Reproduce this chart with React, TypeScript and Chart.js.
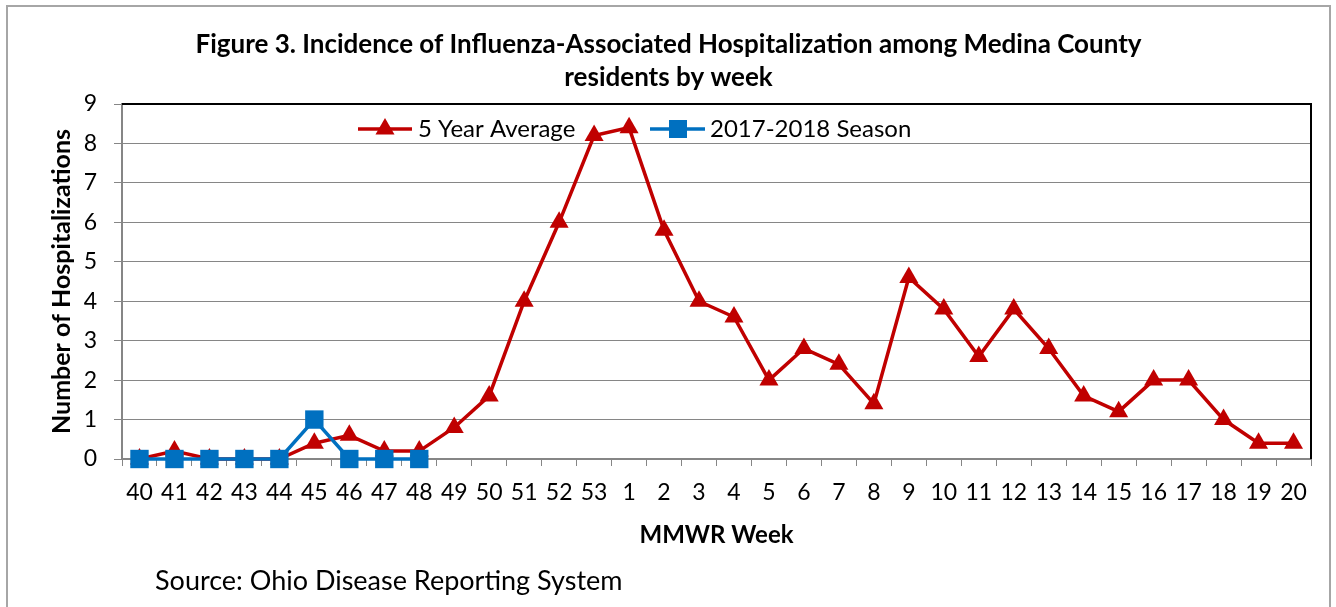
import React, { useEffect, useRef } from 'react';
import { Chart, registerables } from 'chart.js';

Chart.register(...registerables);

const weeks = ['40', '41', '42', '43', '44', '45', '46', '47', '48', '49', '50', '51', '52', '53',
  '1', '2', '3', '4', '5', '6', '7', '8', '9', '10', '11', '12', '13', '14', '15', '16', '17', '18', '19', '20'];

const fiveYearAverage = [0, 0.2, 0, 0, 0, 0.4, 0.6, 0.2, 0.2, 0.8, 1.6, 4, 6, 8.2,
  8.4, 5.8, 4, 3.6, 2, 2.8, 2.4, 1.4, 4.6, 3.8, 2.6, 3.8, 2.8, 1.6, 1.2, 2, 2, 1, 0.4, 0.4];

const season20172018 = [0, 0, 0, 0, 0, 1, 0, 0, 0];

const yTicks = [0, 1, 2, 3, 4, 5, 6, 7, 8, 9];

const titleLines = ['Figure 3. Incidence of Influenza-Associated Hospitalization among Medina County', 'residents by week'];
const seriesNames = ['5 Year Average', '2017-2018 Season'];
const xTitle = 'MMWR Week';
const yTitle = 'Number of Hospitalizations';
const sourceText = 'Source: Ohio Disease Reporting System';

const RED = '#C00000';
const BLUE = '#0070C0';
const FONT = 'Lato, "Open Sans", sans-serif';

const decorPlugin = {
  id: 'decor',
  beforeDraw(chart: any) {
    const ctx = chart.ctx;
    ctx.save();
    ctx.fillStyle = '#ffffff';
    ctx.fillRect(0, 0, chart.width, chart.height);
    ctx.strokeStyle = '#a6a6a6';
    ctx.lineWidth = 2;
    ctx.strokeRect(7, 6, 1323, 700);
    ctx.restore();
  },
  beforeDatasetsDraw(chart: any) {
    const { ctx, chartArea } = chart;
    ctx.save();
    ctx.strokeStyle = '#000000';
    ctx.lineWidth = 2;
    ctx.beginPath();
    ctx.moveTo(chartArea.left, chartArea.top);
    ctx.lineTo(chartArea.right, chartArea.top);
    ctx.lineTo(chartArea.right, chartArea.bottom);
    ctx.stroke();
    ctx.restore();
  },
  afterDraw(chart: any) {
    const ctx = chart.ctx;
    ctx.save();
    // legend
    const ly = 129;
    ctx.lineWidth = 3.5;
    ctx.strokeStyle = RED;
    ctx.beginPath();
    ctx.moveTo(358, ly);
    ctx.lineTo(412, ly);
    ctx.stroke();
    ctx.fillStyle = RED;
    const r = 11;
    ctx.beginPath();
    ctx.moveTo(385, ly - r);
    ctx.lineTo(385 + r * 0.866, ly + r * 0.5);
    ctx.lineTo(385 - r * 0.866, ly + r * 0.5);
    ctx.closePath();
    ctx.fill();
    ctx.strokeStyle = BLUE;
    ctx.beginPath();
    ctx.moveTo(650, ly);
    ctx.lineTo(705, ly);
    ctx.stroke();
    ctx.fillStyle = BLUE;
    ctx.fillRect(678 - 9, ly - 9, 18, 18);
    ctx.fillStyle = '#000000';
    ctx.font = `24px ${FONT}`;
    ctx.textBaseline = 'middle';
    ctx.textAlign = 'left';
    ctx.fillText(seriesNames[0], 418, ly);
    ctx.fillText(seriesNames[1], 710, ly);
    // source
    ctx.font = `27px ${FONT}`;
    ctx.fillText(sourceText, 155, 581);
    ctx.restore();
  },
};

export default function App() {
  const ref = useRef<HTMLCanvasElement>(null);
  useEffect(() => {
    document.body.style.margin = '0';
    const chart = new Chart(ref.current as HTMLCanvasElement, {
      type: 'line',
      data: {
        labels: weeks,
        datasets: [
          {
            label: seriesNames[0],
            data: fiveYearAverage,
            borderColor: RED,
            backgroundColor: RED,
            borderWidth: 3.5,
            pointStyle: 'triangle',
            pointRadius: 11,
            pointBorderWidth: 0,
            pointBackgroundColor: RED,
            tension: 0,
            order: 1,
          },
          {
            label: seriesNames[1],
            data: season20172018,
            borderColor: BLUE,
            backgroundColor: BLUE,
            borderWidth: 3.5,
            pointStyle: 'rect',
            pointRadius: 13,
            pointBorderWidth: 0,
            pointBackgroundColor: BLUE,
            tension: 0,
            order: 0,
          },
        ],
      },
      options: {
        animation: false,
        responsive: false,
        devicePixelRatio: 1,
        clip: false as any,
        layout: { padding: { left: 26, top: 0, right: 25, bottom: 48 } },
        plugins: {
          legend: { display: false },
          tooltip: { enabled: false },
          title: {
            display: true,
            text: titleLines,
            color: '#000000',
            font: { family: FONT, size: 26, weight: 'bold', lineHeight: 33 / 26 },
            padding: { top: 28.5, bottom: 9.5 },
          },
        },
        scales: {
          x: {
            type: 'category',
            offset: true,
            grid: {
              offset: true,
              drawOnChartArea: false,
              drawTicks: true,
              tickLength: 7,
              color: '#868686',
            },
            border: { color: '#868686', width: 2 },
            ticks: {
              autoSkip: false,
              maxRotation: 0,
              minRotation: 0,
              color: '#000000',
              padding: 13,
              font: { family: FONT, size: 23 },
            },
            title: {
              display: true,
              text: xTitle,
              color: '#000000',
              font: { family: FONT, size: 24, weight: 'bold', lineHeight: 1.1 },
              padding: { top: 0, bottom: 10.8 },
            },
            afterFit(scale: any) {
              scale.height = 100;
            },
          },
          y: {
            min: 0,
            max: 9,
            afterBuildTicks(scale: any) {
              scale.ticks = yTicks.map((v) => ({ value: v }));
            },
            grid: {
              color: '#868686',
              lineWidth: 1,
              drawTicks: true,
              tickLength: 8,
            },
            border: { color: '#868686', width: 2 },
            ticks: {
              color: '#000000',
              padding: 17,
              font: { family: FONT, size: 23 },
            },
            title: {
              display: true,
              text: yTitle,
              color: '#000000',
              font: { family: FONT, size: 25, weight: 'bold', lineHeight: 1.056 },
              padding: { top: 22.8, bottom: 0 },
            },
            afterFit(scale: any) {
              scale.width = 96;
            },
          },
        },
      },
      plugins: [decorPlugin],
    } as any);
    return () => chart.destroy();
  }, []);
  return (
    <div style={{ position: 'absolute', left: 0, top: 0, width: 1336, height: 607 }}>
      <canvas ref={ref} width={1336} height={607} style={{ display: 'block' }} />
    </div>
  );
}
